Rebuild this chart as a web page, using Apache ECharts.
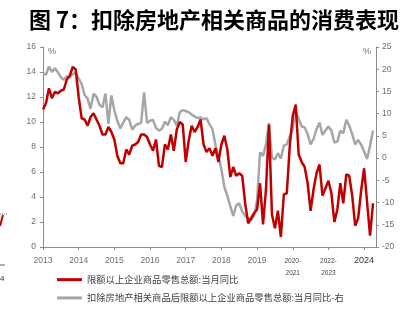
<!DOCTYPE html>
<html><head><meta charset="utf-8">
<script src="https://cdn.jsdelivr.net/npm/echarts@6/dist/echarts.min.js"></script>
<style>html,body{margin:0;padding:0;background:#fff}#c{width:410px;height:325px}</style>
</head><body><div id="c"></div>
<script>
// x-axis segment labels (one tick every 12 monthly points)
const tickLabels = ['2013','2014','2015','2016','2017','2018','2019','2020-2021','2022-2023','2024'];
const pointsPerSegment = 12;
const categoryCount = 113;

// 限额以上企业商品零售总额:当月同比 (left axis, %)
const retailYoY = [11.0, 11.5, 12.7, 11.9, 12.4, 12.3, 12.5, 12.6, 13.4, 13.7,
  14.4, 14.2, 12.0, 10.3, 10.2, 9.7, 10.4, 10.7, 10.2, 9.7,
  9.0, 9.0, 9.6, 9.2, 8.6, 7.3, 6.7, 6.7, 7.8, 7.4,
  8.1, 8.2, 8.4, 9.0, 9.0, 8.8, 8.2, 7.7, 8.6, 6.5,
  6.4, 8.2, 7.8, 9.0, 7.7, 9.4, 10.0, 9.8, 6.8, 8.5,
  9.7, 9.2, 9.6, 10.2, 8.2, 7.6, 7.9, 7.3, 7.9, 6.8,
  8.2, 8.9, 7.8, 5.6, 6.4, 5.7, 5.9, 5.7, 3.5, 1.9,
  2.3, 2.7, 3.0, 5.1, 1.8, 4.6, 9.8, 2.6, 1.5, 2.9,
  0.8, 4.2, 4.3, 8.1, 10.5, 11.4, 7.4, 6.8, 6.4, 5.1,
  2.9, 4.6, 5.9, 6.6, 4.1, 4.7, 5.3, 4.3, 2.0, 3.0,
  5.1, 3.5, 5.8, 5.7, 4.1, 1.7, 2.3, 4.5, 6.3, 3.6,
  0.9, 3.5];

// 扣除房地产相关商品后限额以上企业商品零售总额:当月同比 (right axis, %)
const exRealEstateYoY = [19.0, 18.8, 20.6, 19.4, 20.2, 19.3, 18.2, 17.6, 18.4, 18.2,
  18.9, 19.2, 17.9, 16.7, 14.2, 13.4, 11.1, 14.5, 13.8, 12.0,
  11.4, 14.5, 7.7, 14.1, 10.7, 8.4, 6.7, 8.0, 9.2, 8.6,
  6.4, 7.3, 7.7, 7.9, 14.8, 7.9, 8.4, 8.6, 6.8, 6.2,
  6.6, 8.2, 7.4, 9.2, 8.6, 7.3, 10.3, 10.8, 10.6, 10.3,
  9.8, 9.4, 9.0, 9.2, 8.7, 9.0, 7.6, 6.5, 3.0, 0.5,
  -2.5, -6.5, -8.5, -10.8, -13.0, -10.6, -10.2, -12.0, -13.0, -13.5,
  -14.0, -13.0, -9.5, 1.3, 0.5, 3.1, 7.9, 0.1, -0.3, 1.1,
  -0.1, 2.8, 3.1, 4.9, 6.7, 10.7, 8.8, 7.1, 6.9, 5.4,
  3.1, 4.3, 6.5, 8.0, 5.2, 6.2, 7.1, 6.2, 3.5, 3.7,
  6.2, 5.6, 8.6, 7.3, 5.4, 3.1, 4.1, 3.0, 1.5, -0.2,
  2.8, 6.2];

const seriesNames = ['限额以上企业商品零售总额:当月同比', '扣除房地产相关商品后限额以上企业商品零售总额:当月同比-右'];

const categories = [];
for (let i = 0; i < categoryCount; i++) {
  categories.push(tickLabels[Math.floor(i / pointsPerSegment)] + '#' + (i % pointsPerSegment + 1));
}

const chart = echarts.init(document.getElementById('c'), null, {renderer: 'canvas'});
const axisGray = '#8c8c8c';
const labelGray = '#6e6e6e';
const font = 'Liberation Sans';

chart.setOption({
  animation: false,
  backgroundColor: '#ffffff',
  title: {
    text: '图 7：扣除房地产相关商品的消费表现',
    left: 24, top: 4,
    textStyle: {fontSize: 22, fontWeight: 'bold', color: '#000', fontFamily: 'Noto Sans CJK SC'}
  },
  grid: {left: 43, right: 34, top: 47, bottom: 78, containLabel: false, outerBoundsMode: 'none'},
  legend: {
    orient: 'vertical', left: 52, top: 270, itemGap: 9,
    icon: 'rect', itemWidth: 25, itemHeight: 3,
    textStyle: {fontSize: 9.3, color: '#404040', fontFamily: 'Noto Sans CJK SC'},
    data: seriesNames
  },
  xAxis: {
    type: 'category', data: categories, boundaryGap: false,
    axisLine: {lineStyle: {color: axisGray, width: 1}},
    axisTick: {show: true, length: 3, interval: (i) => i % pointsPerSegment === 0, lineStyle: {color: axisGray}},
    splitLine: {show: false},
    axisLabel: {
      interval: (i) => i % pointsPerSegment === 0,
      margin: 9,
      color: labelGray, fontSize: 8.5, fontFamily: font,
      formatter: (v, i) => {
        const lab = tickLabels[Math.floor(i / pointsPerSegment)];
        if (lab.indexOf('-') > 0) return '{s|' + lab.replace('-', '-\n') + '}';
        if (lab === '2024') return '{b|' + lab + '}';
        return lab;
      },
      rich: {
        s: {fontSize: 6.5, lineHeight: 12, color: '#444', fontFamily: font, padding: [-2, 0, 0, 0]},
        b: {fontSize: 9, color: '#333', fontFamily: font, padding: [0, 0, 3, 0]}
      }
    }
  },
  yAxis: [{
    type: 'value', min: 0, max: 16, interval: 2, position: 'left',
    name: '%', nameLocation: 'end', nameGap: -9,
    nameTextStyle: {color: labelGray, fontSize: 9, align: 'left', padding: [0, 0, 0, 5], fontFamily: font},
    axisLine: {show: true, lineStyle: {color: axisGray, width: 1}},
    axisTick: {show: true, length: 3, lineStyle: {color: axisGray}},
    splitLine: {show: false},
    axisLabel: {color: labelGray, fontSize: 8.5, margin: 7, fontFamily: font}
  }, {
    type: 'value', min: -20, max: 25, interval: 5, position: 'right',
    name: '%', nameLocation: 'end', nameGap: -9,
    nameTextStyle: {color: labelGray, fontSize: 9, align: 'right', padding: [0, 5, 0, 0], fontFamily: font},
    axisLine: {show: true, lineStyle: {color: axisGray, width: 1}},
    axisTick: {show: true, length: 3, lineStyle: {color: axisGray}},
    splitLine: {show: false},
    axisLabel: {color: labelGray, fontSize: 8.5, margin: 6, fontFamily: font}
  }],
  series: [{
    name: seriesNames[0], type: 'line', yAxisIndex: 0, data: retailYoY,
    showSymbol: false, symbol: 'none', z: 3,
    lineStyle: {color: '#C00000', width: 2.5},
    itemStyle: {color: '#C00000'}
  }, {
    name: seriesNames[1], type: 'line', yAxisIndex: 1, data: exRealEstateYoY,
    showSymbol: false, symbol: 'none', z: 2,
    lineStyle: {color: '#A6A6A6', width: 2.5},
    itemStyle: {color: '#A6A6A6'}
  }],
  graphic: [
    {type: 'line', shape: {x1: 0, y1: 214, x2: 8, y2: 214}, style: {stroke: '#333', lineWidth: 0.7, lineDash: [1, 1]}},
    {type: 'line', shape: {x1: 0, y1: 226, x2: 3, y2: 215}, style: {stroke: '#C00000', lineWidth: 2}},
    {type: 'line', shape: {x1: 0, y1: 265, x2: 5, y2: 265}, style: {stroke: '#333', lineWidth: 0.8}},
    {type: 'text', left: 0, top: 275, style: {text: '4', fontSize: 8, fill: '#333', fontFamily: font}}
  ]
});
</script></body></html>
